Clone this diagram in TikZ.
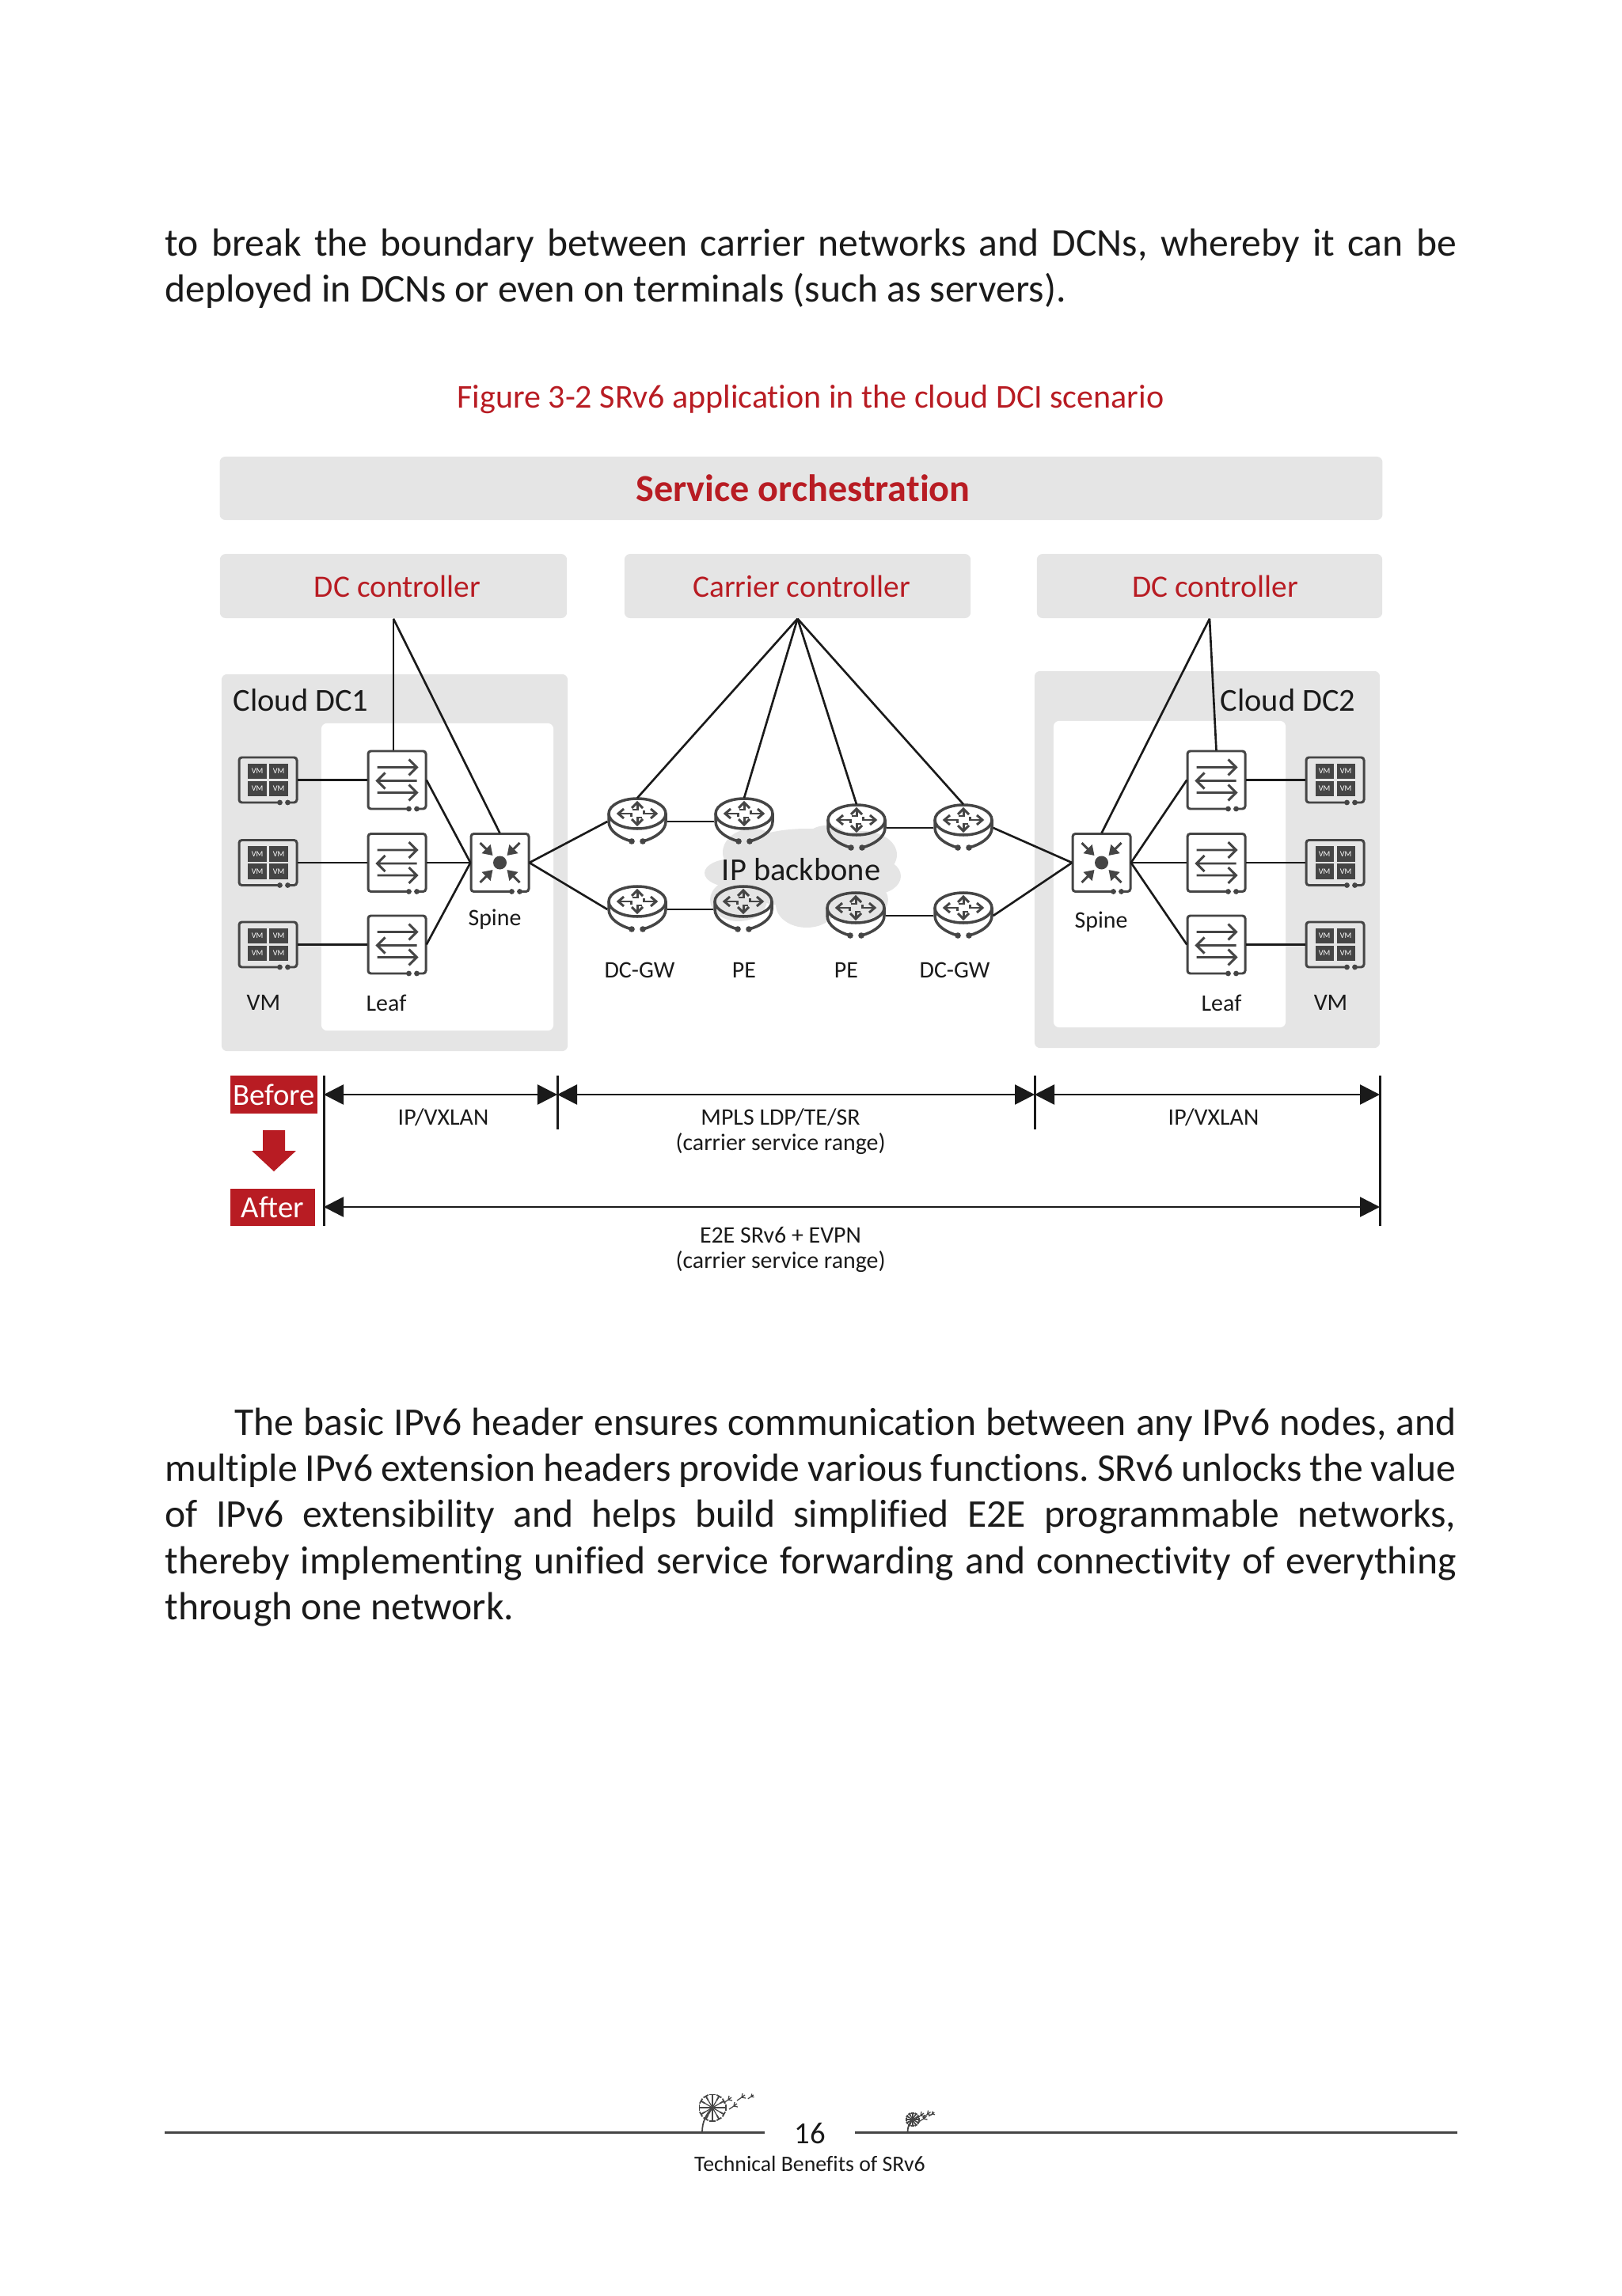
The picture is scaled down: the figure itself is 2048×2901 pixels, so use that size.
\documentclass[tikz,border=0pt]{standalone}
\usepackage{fontspec}
\setmainfont[Ligatures=NoCommon]{Carlito}
\usepackage{xcolor}
\usetikzlibrary{arrows.meta, calc}
\definecolor{hwred}{HTML}{B81C23}
\definecolor{panelgray}{HTML}{E5E5E5}
\definecolor{icongray}{HTML}{454545}
\definecolor{linkblack}{HTML}{1A1A1A}
\newcommand{\iconframe}[1]{
  \draw[icon, rounded corners=1pt] (15,#1) -- (-36.5,#1) -- (-36.5,-#1) -- (36.5,-#1) -- (36.5,#1) -- (25,#1);
  \fill[icongray] (15,#1) circle (3.4) (25,#1) circle (3.4);
}
\tikzset{
  icon/.style={draw=icongray, line width=0.85pt},
  link/.style={draw=linkblack, line width=0.75pt},
  span/.style={draw=linkblack, line width=0.75pt, <->},
  tick/.style={draw=linkblack, line width=0.85pt},
  devbox/.style={rectangle, inner sep=0pt, minimum width=0.73cm, minimum height=0.73cm},
  vmbox/.style={rectangle, inner sep=0pt, minimum width=0.73cm, minimum height=0.57cm},
  gwbox/.style={rectangle, inner sep=0pt, minimum width=0.74cm, minimum height=0.58cm},
  panel/.style={rectangle, fill=panelgray, rounded corners=2pt, inner sep=0pt},
  innerpanel/.style={rectangle, fill=white, rounded corners=2pt, inner sep=0pt},
  ctrl/.style={panel, text=hwred, font=\fontsize{11.2}{14}\selectfont},
  lab/.style={inner sep=0pt, text=linkblack, font=\fontsize{8.5}{9.2}\selectfont},
  biglab/.style={inner sep=0pt, text=linkblack, font=\fontsize{11.5}{14}\selectfont},
  tag/.style={rectangle, fill=hwred, text=white, inner sep=0pt, font=\fontsize{11}{14}\selectfont},
  bodytext/.style={inner sep=0pt, anchor=north west, text width=16.3cm, align=justify, text=linkblack,
    font=\fontsize{14.1}{16.6}\selectfont\frenchspacing},
  vmcell/.style={rectangle, fill=icongray, text=white, inner sep=0pt, minimum width=0.23cm, minimum height=0.19cm,
    font=\fontsize{2.9}{3}\selectfont},
  leafpic/.pic={
    \iconframe{36.5}
    \draw[icon] (-25,-16) -- (25,-16) (15,-26) -- (25,-16) -- (15,-6);
    \draw[icon] (-25,1) -- (25,1) (-15,-9) -- (-25,1) -- (-15,11);
    \draw[icon] (-25,16) -- (25,16) (15,6) -- (25,16) -- (15,26);
  },
  spinepic/.pic={
    \iconframe{36.5}
    \fill[icongray] (0,0) circle (8.5);
    \foreach \a/\b in {-1/-1, 1/-1, -1/1, 1/1}
      \draw[icon, -{Triangle[length=1.2mm, width=1.5mm]}] ({25*\a},{25*\b}) -- ({9*\a},{9*\b});
  },
  vmpic/.pic={
    \iconframe{28.5}
    \node[vmcell] (a) at (-13.5,-11) {VM};
    \node[vmcell] (b) at (13.5,-11) {VM};
    \node[vmcell] (c) at (-13.5,11) {VM};
    \node[vmcell] (d) at (13.5,11) {VM};
  },
  gwpic/.pic={
    \draw[icon, line width=1pt] (0,-10) ellipse [x radius=36, y radius=19];
    \draw[icon, line width=1pt] (-36,-10) -- (-36,0) .. controls (-36,12) and (-22,21) .. (-7,25);
    \draw[icon, line width=1pt] (36,-10) -- (36,0) .. controls (36,12) and (22,21) .. (7,25);
    \fill[icongray] (-7,25) circle (3.8) (7,25) circle (3.8);
    \begin{scope}[shift={(0,-10)}]
      \foreach \s in {1,-1} {
        \draw[icon] ({-7*\s},{-7*\s}) -- ({0},{-14*\s}) -- ({7*\s},{-7*\s});
        \draw[icon] (0,{-14*\s}) -- (0,{-5*\s}) -- ({-6*\s},{-5*\s});
        \draw[icon] ({-17*\s},-6) -- ({-24*\s},0) -- ({-17*\s},6);
        \draw[icon] ({-24*\s},0) -- ({-8*\s},0) -- ({-8*\s},{4*\s});
      }
    \end{scope}
  },
  seedpic/.pic={
    \draw[icongray, line width=0.35pt] (0,0) -- (-6,4) (0,0) -- (1,-5) (0,0) -- (4,-3) (0,0) -- (5,1);
  },
  dandelion/.pic={
    \draw[icongray, line width=0.5pt] (-13,31) .. controls (-13,18) and (-8,8) .. (0,0);
    \foreach \r in {0,30,...,330} {
      \draw[icongray, line width=0.35pt] (0,0) -- (\r:14);
      \draw[icongray, line width=0.5pt] (\r-12:17) -- (\r+12:17) (\r:11) -- (\r:17);
    }
    \pic at (20,-10) {seedpic};
    \pic at (27,-2) {seedpic};
    \pic at (37,-13) {seedpic};
    \pic[scale=0.7] at (49,-14) {seedpic};
  }
}
\begin{document}
\begin{tikzpicture}[x=0.01cm, y=-0.01cm, >={Triangle[length=2.5mm, width=2.5mm]}]
  \useasboundingbox (0,0) rectangle (2048,2901);
  % page text
  \node[bodytext] (top) at (208,288) {to break the boundary between carrier networks and DCNs, whereby it can be\linebreak deployed in DCNs or even on terminals (such as servers).};
  \node[inner sep=0pt, text=hwred, font=\fontsize{11.95}{14}\selectfont] (title) at (1024,505) {Figure 3-2 SRv6 application in the cloud DCI scenario};
  \node[bodytext] (para) at (208,1778) {\hspace*{0.88cm}The basic IPv6 header ensures communication between any IPv6 nodes, and\linebreak multiple IPv6 extension headers provide various functions. SRv6 unlocks the value\linebreak of IPv6 extensibility and helps build simplified E2E programmable networks,\linebreak thereby implementing unified service forwarding and connectivity of everything\linebreak through one network.};

  % controllers
  \node[panel, minimum width=14.68cm, minimum height=0.8cm, text=hwred, font=\fontsize{13.7}{16}\selectfont\bfseries] (so) at (1012,617) {\hspace*{0.05cm}Service orchestration};
  \node[ctrl, minimum width=4.38cm, minimum height=0.81cm] (dcl) at (497,740.5) {\hspace*{0.1cm}DC controller};
  \node[ctrl, minimum width=4.37cm, minimum height=0.81cm] (cc) at (1007.5,740.5) {\hspace*{0.1cm}Carrier controller};
  \node[ctrl, minimum width=4.36cm, minimum height=0.81cm] (dcr) at (1528,740.5) {\hspace*{0.14cm}DC controller};

  % data centres
  \node[panel, minimum width=4.37cm, minimum height=4.76cm] (dc1) at (498.5,1090) {};
  \node[innerpanel, minimum width=2.93cm, minimum height=3.88cm] (dc1in) at (552.5,1108) {};
  \node[panel, minimum width=4.36cm, minimum height=4.76cm] (dc2) at (1525,1086) {};
  \node[innerpanel, minimum width=2.93cm, minimum height=3.87cm] (dc2in) at (1477.5,1104.5) {};

  % backbone cloud
  \foreach \cx/\cy/\rx/\ry in {951/1077/38/30, 1044/1070/32/27, 1090/1080/43/30, 1104/1107/34/23, 926/1103/36/18,
    1019/1097/107/50, 933/1137/36/27, 1019/1143/39/29, 1079/1137/43/27}
    \fill[panelgray] (\cx,\cy) ellipse [x radius=\rx, y radius=\ry];

  % devices
  \foreach \n/\x/\y in {v1/338.5/985.5, v2/338.5/1090, v3/338.5/1193.5, v4/1686.5/985.5, v5/1686.5/1090, v6/1686.5/1193.5} {
    \node[vmbox] (\n) at (\x,\y) {};
    \pic (\n i) at (\n) {vmpic};
  }
  \foreach \n/\x/\y in {l1/501.5/985.5, l2/501.5/1090, l3/501.5/1193.5, l4/1536.5/985.5, l5/1536.5/1090, l6/1536.5/1193.5} {
    \node[devbox] (\n) at (\x,\y) {};
    \pic at (\n) {leafpic};
  }
  \foreach \n/\x in {s1/631.5, s2/1391.5} {
    \node[devbox] (\n) at (\x,1090) {};
    \pic at (\n) {spinepic};
  }
  \foreach \n/\x/\y in {r1/805/1038, r2/940/1038, r3/1082/1046, r4/1217/1046, r5/805/1149, r6/939/1149, r7/1081/1157, r8/1217/1157} {
    \node[gwbox] (\n) at (\x,\y) {};
    \pic at (\n) {gwpic};
  }

  % links
  \draw[link] (dcl.south) -- (dcl.south |- l1.north);
  \draw[link] (dcl.south) -- (s1.north);
  \draw[link] (dcr.south) -- (l4.north);
  \draw[link] (dcr.south) -- (s2.north);
  \foreach \n in {r1,r2,r3,r4}
    \draw[link] (cc.south) -- (\n.north);
  \foreach \n/\m in {v1/l1, v2/l2, v3/l3, l1/s1, l2/s1, l3/s1, s1/r1, s1/r5, r1/r2, r5/r6, r3/r4, r7/r8, r4/s2, r8/s2, s2/l4, s2/l5, s2/l6, l4/v4, l5/v5, l6/v6}
    \draw[link] (\n.east) -- (\m.west);

  % labels
  \node[biglab, anchor=west] (dc1lb) at (294,885) {Cloud DC1};
  \node[biglab, anchor=west] (dc2lb) at (1541,885) {Cloud DC2};
  \node[lab] (vml) at (333,1267) {VM};
  \node[lab] (lfl) at (488,1267) {Leaf};
  \node[lab] (spl) at (625,1162) {Spine};
  \node[lab] (spr) at (1391,1165) {Spine};
  \node[lab] (lfr) at (1543,1267) {Leaf};
  \node[lab] (vmr) at (1681,1267) {VM};
  \node[lab] (gw1) at (808,1226) {DC-GW};
  \node[lab] (pe1) at (940,1226) {PE};
  \node[lab] (pe2) at (1069,1226) {PE};
  \node[lab] (gw2) at (1206,1226) {DC-GW};
  \node[biglab] (ipb) at (1012,1099) {IP backbone};

  % before and after
  \node[tag, minimum width=1.1cm, minimum height=0.48cm] (bef) at (346,1383) {Before};
  \node[tag, minimum width=1.07cm, minimum height=0.47cm] (aft) at (344.5,1525.5) {After};
  \fill[hwred] (332,1428) -- (360,1428) -- (360,1454) -- (374,1454) -- (346,1480) -- (318,1454) -- (332,1454) -- cycle;
  \coordinate (t0) at (409,1359);
  \coordinate (t1) at (704,1359);
  \coordinate (t2) at (1307,1359);
  \coordinate (t3) at (1743,1359);
  \coordinate (b0) at (409,1549);
  \coordinate (b1) at (704,1427);
  \coordinate (b2) at (1307,1427);
  \coordinate (b3) at (1743,1549);
  \coordinate (up) at (0,1383);
  \coordinate (dn) at (0,1525);
  \foreach \p/\q in {t0/b0, t1/b1, t2/b2, t3/b3}
    \draw[tick] (\p) -- (\q);
  \draw[span] (t0 |- up) -- (t1 |- up);
  \draw[span] (t1 |- up) -- (t2 |- up);
  \draw[span] (t2 |- up) -- (t3 |- up);
  \draw[span] (t0 |- dn) -- (t3 |- dn);
  \node[lab] (ipv1) at (560,1412) {IP/VXLAN};
  \node[lab, align=center] (mpls) at (986,1430) {MPLS LDP/TE/SR\\(carrier service range)};
  \node[lab] (ipv2) at (1533,1412) {IP/VXLAN};
  \node[lab, align=center] (e2e) at (986,1579) {E2E SRv6 + EVPN\\(carrier service range)};

  % footer
  \coordinate (f0) at (208,2694);
  \coordinate (f1) at (966,2694);
  \coordinate (f2) at (1080,2694);
  \coordinate (f3) at (1841,2694);
  \draw[icon] (f0) -- (f1);
  \draw[icon] (f2) -- (f3);
  \pic at (900,2663) {dandelion};
  \pic[scale=0.5] at (1153,2678) {dandelion};
  \node[inner sep=0pt, text=linkblack, font=\fontsize{11}{14}\selectfont] (pg) at (1023,2696) {16};
  \node[inner sep=0pt, text=linkblack, font=\fontsize{7.9}{10}\selectfont] (ft) at (1023,2734) {Technical Benefits of SRv6};
\end{tikzpicture}
\end{document}
